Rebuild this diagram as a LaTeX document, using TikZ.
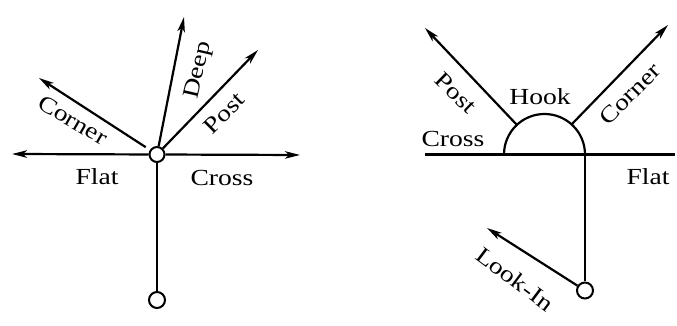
\documentclass[tikz,border=0pt]{standalone}
\usepackage{fontspec}
\setmainfont{Liberation Serif}[FakeStretch=1.2]
\usetikzlibrary{arrows.meta}
\begin{document}
\begin{tikzpicture}[x=1pt,y=1pt,
  ln/.style={line width=2.2pt},
  arr/.style={ln,-{Stealth[length=15pt,width=7.5pt,inset=4pt]}},
  ring/.style={circle,draw,line width=2pt,minimum size=15pt,inner sep=0pt,fill=white},
  lbl/.style={font=\fontsize{23}{23}\selectfont,inner sep=0pt}]
\useasboundingbox (0,0) rectangle (677,326);
% ---- left diagram ----
\coordinate (flatL) at (12,172);
\coordinate (crossL) at (300,171);
\coordinate (deepL) at (184,309);
\coordinate (postL) at (258,276);
\coordinate (cornerL) at (39,248);
\node[ring] (hub) at (157,171.5) {};
\node[ring,minimum size=16pt] (foot) at (157,26) {};
\draw[ln] (hub) -- (foot);
\draw[arr] (hub) -- (flatL);
\draw[arr] (hub) -- (crossL);
\draw[arr] (hub) -- (deepL);
\draw[arr] (hub) -- (postL);
\draw[arr,shorten <=5pt] (hub) -- (cornerL);
\node[lbl,rotate=-30] (tcornerL) at (73,206) {Corner};
\node[lbl,rotate=77] (tdeep) at (199,256) {Deep};
\node[lbl,rotate=45] (tpostL) at (224,213) {Post};
\node[lbl] (tflatL) at (97,149) {Flat};
\node[lbl] (tcrossL) at (222,148) {Cross};
% ---- right diagram ----
\coordinate (hc) at (544.5,171.5);
\coordinate (lineL) at (425,171.5);
\coordinate (lineR) at (675,171.5);
\coordinate (hr) at (585,171.5);
\coordinate (postR) at (425,298);
\coordinate (cornerR) at (668,301);
\coordinate (lookT) at (487,98);
\draw[ln] (lineL) -- (lineR);
\draw[ln] ([shift={(180:40.5)}]hc) arc[start angle=180,end angle=0,radius=40.5];
\node[ring,minimum size=16pt] (look) at (585,35.5) {};
\draw[ln] (hr) -- (look);
\draw[arr] ([shift={(133:40.5)}]hc) -- (postR);
\draw[arr] ([shift={(48:40.5)}]hc) -- (cornerR);
\draw[arr] (look) -- (lookT);
\node[lbl] (thook) at (540,229) {Hook};
\node[lbl,rotate=-44] (tpostR) at (456,233) {Post};
\node[lbl] (tcrossR) at (453,187) {Cross};
\node[lbl,rotate=45] (tcornerR) at (630,232) {Corner};
\node[lbl] (tflatR) at (648,149) {Flat};
\node[lbl,rotate=-37] (tlook) at (515,47) {Look-In};
\end{tikzpicture}
\end{document}
